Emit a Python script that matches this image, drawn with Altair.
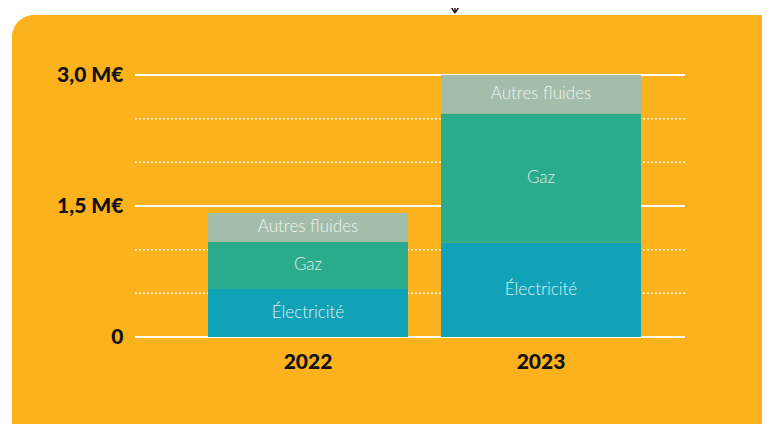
import altair as alt
import pandas as pd

years = ["2022", "2023"]
categories = ["Électricité", "Gaz", "Autres fluides"]
electricite = [0.55, 1.08]
gaz = [0.54, 1.48]
autres = [0.33, 0.44]
colors = ["#12a2b8", "#2aab8b", "#a3bdab"]
y_major = [0, 1.5, 3.0]
y_minor = [0.5, 1.0, 2.0, 2.5]

rows = []
for i, yr in enumerate(years):
    base = 0.0
    for k, (cat, vals) in enumerate(zip(categories, [electricite, gaz, autres])):
        v = vals[i]
        rows.append(dict(year=yr, cat=cat, order=k, start=base, end=base + v, mid=base + v / 2))
        base += v
df = pd.DataFrame(rows)

W, H = 550, 262
ORANGE = "#fbb21c"

xscale = alt.Scale(domain=years, range=[73, 506], paddingInner=0.1416, paddingOuter=0)
yscale = alt.Scale(domain=[0, 3.0], nice=False)

bg = alt.Chart(pd.DataFrame({"a": [0]})).mark_rect(color=ORANGE, cornerRadius=22).encode(
    x=alt.value(-123), x2=alt.value(800), y=alt.value(-60), y2=alt.value(500)
)

arrow_df = pd.DataFrame({"a": [0]})
arrow_v = alt.Chart(arrow_df).mark_rule(color="#2b1a12", strokeWidth=1.5).encode(
    x=alt.value(320), x2=alt.value(320), y=alt.value(-80), y2=alt.value(-62))
arrow_l = alt.Chart(arrow_df).mark_rule(color="#2b1a12", strokeWidth=1.5).encode(
    x=alt.value(311), x2=alt.value(320), y=alt.value(-76), y2=alt.value(-62))
arrow_r = alt.Chart(arrow_df).mark_rule(color="#2b1a12", strokeWidth=1.5).encode(
    x=alt.value(329), x2=alt.value(320), y=alt.value(-76), y2=alt.value(-62))

minor = alt.Chart(pd.DataFrame({"v": y_minor})).mark_rule(
    color="white", strokeWidth=1.5, strokeDash=[2, 2], opacity=0.85
).encode(y=alt.Y("v:Q", scale=yscale), x=alt.value(0), x2=alt.value(W))

major = alt.Chart(pd.DataFrame({"v": y_major})).mark_rule(
    color="white", strokeWidth=2.2
).encode(
    y=alt.Y("v:Q", scale=yscale, axis=alt.Axis(
        values=y_major, title=None, domain=False, ticks=False, grid=False, zindex=2,
        labelExpr="datum.value == 0 ? '0' : replace(format(datum.value, '.1f'), '.', ',') + ' M€'",
        labelFont="Lato", labelFontWeight=900, labelFontSize=21, labelColor="#111111",
        labelPadding=12)),
    x=alt.value(0), x2=alt.value(W),
)

bars = alt.Chart(df).mark_bar().encode(
    x=alt.X("year:N", scale=xscale, axis=alt.Axis(
        title=None, domain=False, ticks=False, labelAngle=0, labelFont="Lato", zindex=2,
        labelFontWeight=900, labelFontSize=21, labelColor="#111111", labelPadding=14)),
    y=alt.Y("start:Q", scale=yscale),
    y2="end:Q",
    color=alt.Color("cat:N", scale=alt.Scale(domain=categories, range=colors), legend=None),
)

labels = alt.Chart(df).mark_text(
    font="Lato", fontWeight=300, fontSize=17, color="white", opacity=0.85
).encode(
    x=alt.X("year:N", scale=xscale),
    y=alt.Y("mid:Q", scale=yscale),
    text="cat:N",
)

chart = alt.layer(bg, arrow_v, arrow_l, arrow_r, minor, major, bars, labels).properties(
    width=W, height=H,
    autosize=alt.AutoSizeParams(type="none"),
    padding={"left": 127, "top": 67, "right": 77, "bottom": 87},
    background="white",
).configure_view(stroke=None)

chart.save("out.html", embed_options={"renderer": "svg", "actions": False})
